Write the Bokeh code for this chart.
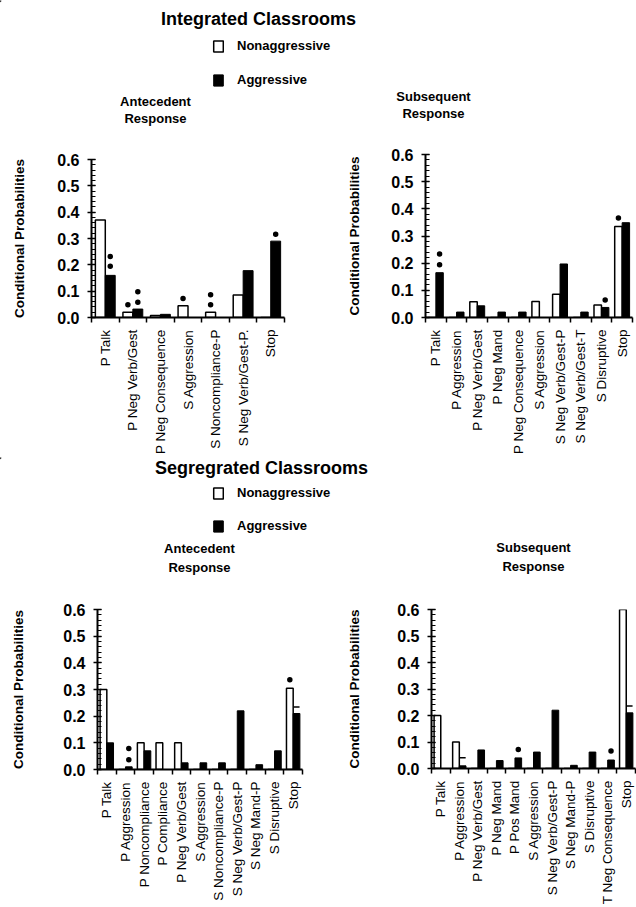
import math
from bokeh.plotting import figure
from bokeh.layouts import column, row
from bokeh.models import Range1d, FixedTicker, PrintfTickFormatter, ColumnDataSource, Legend, LegendItem
from bokeh.embed import file_html
from bokeh.resources import INLINE
from bokeh.core.properties import value

FONT = "Liberation Sans"

# ---------------- data ----------------
y_ticks = [0.0, 0.1, 0.2, 0.3, 0.4, 0.5, 0.6]
series_names = ["Nonaggressive", "Aggressive"]

int_ante_cats = ["P Talk", "P Neg Verb/Gest", "P Neg Consequence", "S Aggression",
                 "S Noncompliance-P", "S Neg Verb/Gest-P.", "Stop"]
int_ante_non = [0.37, 0.02, 0.008, 0.045, 0.02, 0.085, 0.0]
int_ante_agg = [0.16, 0.032, 0.012, 0.0, 0.0, 0.178, 0.29]
int_ante_sig_cat = ["P Talk", "P Talk", "P Neg Verb/Gest", "P Neg Verb/Gest", "P Neg Verb/Gest",
                    "S Aggression", "S Noncompliance-P", "S Noncompliance-P", "Stop"]
int_ante_sig_ser = ["agg", "agg", "non", "agg", "agg", "non", "non", "non", "agg"]
int_ante_sig_y = [0.232, 0.195, 0.048, 0.098, 0.058, 0.072, 0.086, 0.048, 0.316]
int_ante_sig_mk = ["circle"] * 9

int_subs_cats = ["P Talk", "P Aggression", "P Neg Verb/Gest", "P Neg Mand", "P Neg Consequence",
                 "S Aggression", "S Neg Verb/Gest-P", "S Neg Verb/Gest-T", "S Disruptive", "Stop"]
int_subs_non = [0.0, 0.0, 0.058, 0.0, 0.0, 0.059, 0.086, 0.0, 0.046, 0.335]
int_subs_agg = [0.165, 0.02, 0.043, 0.02, 0.02, 0.0, 0.197, 0.02, 0.037, 0.349]
int_subs_sig_cat = ["P Talk", "P Talk", "S Disruptive", "Stop"]
int_subs_sig_ser = ["agg", "agg", "agg", "non"]
int_subs_sig_y = [0.234, 0.194, 0.064, 0.366]
int_subs_sig_mk = ["circle"] * 4

seg_ante_cats = ["P Talk", "P Aggression", "P Noncompliance", "P Compliance", "P Neg Verb/Gest",
                 "S Aggression", "S Noncompliance-P", "S Neg Verb/Gest-P", "S Neg Mand-P",
                 "S Disruptive", "Stop"]
seg_ante_non = [0.30, 0.0, 0.10, 0.10, 0.10, 0.0, 0.0, 0.0, 0.0, 0.0, 0.305]
seg_ante_agg = [0.10, 0.01, 0.07, 0.0, 0.025, 0.025, 0.025, 0.22, 0.018, 0.07, 0.21]
seg_ante_sig_cat = ["P Aggression", "P Aggression", "Stop", "Stop"]
seg_ante_sig_ser = ["agg", "agg", "non", "agg"]
seg_ante_sig_y = [0.079, 0.037, 0.337, 0.234]
seg_ante_sig_mk = ["circle", "circle", "circle", "dash"]

seg_subs_cats = ["P Talk", "P Aggression", "P Neg Verb/Gest", "P Neg Mand", "P Pos Mand",
                 "S Aggression", "S Neg Verb/Gest-P", "S Neg Mand-P", "S Disruptive",
                 "T Neg Consequence", "Stop"]
seg_subs_non = [0.20, 0.10, 0.0, 0.0, 0.0, 0.0, 0.0, 0.0, 0.0, 0.0, 0.60]
seg_subs_agg = [0.0, 0.01, 0.07, 0.03, 0.04, 0.062, 0.22, 0.012, 0.062, 0.032, 0.21]
seg_subs_sig_cat = ["P Aggression", "P Pos Mand", "T Neg Consequence", "Stop"]
seg_subs_sig_ser = ["agg", "agg", "agg", "agg"]
seg_subs_sig_y = [0.041, 0.072, 0.066, 0.236]
seg_subs_sig_mk = ["dash", "circle", "circle", "dash"]

BAR_W = 0.36


def panel(cats, non, agg, sig_cat, sig_ser, sig_y, sig_mk, width, height, bl, br, bt, bb, lab_off):
    n = len(cats)
    p = figure(width=width, height=height, x_range=Range1d(0, n), y_range=Range1d(0, 0.6),
               output_backend="svg", toolbar_location=None,
               min_border_left=bl, min_border_right=br, min_border_top=bt, min_border_bottom=bb)
    p.outline_line_color = None
    p.grid.visible = False
    centers = [i + 0.5 for i in range(n)]
    src_n = ColumnDataSource(dict(x=[c - BAR_W / 2 for c in centers], top=non))
    src_a = ColumnDataSource(dict(x=[c + BAR_W / 2 for c in centers], top=agg))
    p.vbar(x="x", top="top", width=BAR_W, bottom=0, source=src_n,
           fill_color="white", line_color="black", line_width=1.5)
    p.vbar(x="x", top="top", width=BAR_W, bottom=0, source=src_a,
           fill_color="black", line_color="black", line_width=1)
    sx = [cats.index(c) + 0.5 + (-BAR_W / 2 if s == "non" else BAR_W / 2)
          for c, s in zip(sig_cat, sig_ser)]
    sz = [4 if m == "circle" else 6 for m in sig_mk]
    src_s = ColumnDataSource(dict(x=sx, y=sig_y, m=sig_mk, s=sz))
    p.scatter(x="x", y="y", marker="m", size="s", source=src_s, color="black", line_width=1.5)

    xa = p.xaxis[0]
    xa.ticker = FixedTicker(ticks=centers, minor_ticks=list(range(n + 1)))
    xa.major_label_overrides = {c: name for c, name in zip(centers, cats)}
    xa.major_label_orientation = math.pi / 2
    xa.major_tick_out = 0
    xa.major_tick_in = 0
    xa.minor_tick_out = 5
    xa.minor_tick_in = 0
    xa.minor_tick_line_width = 1.5
    xa.axis_line_width = 2
    xa.major_label_standoff = 7
    xa.major_label_text_font = FONT
    xa.major_label_text_font_size = "13.5px"
    xa.major_label_text_color = "black"

    ya = p.yaxis[0]
    ya.ticker = FixedTicker(ticks=y_ticks, minor_ticks=[k * 0.02 for k in range(31)])
    ya.formatter = PrintfTickFormatter(format="%.1f")
    ya.major_tick_out = 4
    ya.major_tick_in = 4
    ya.minor_tick_in = 4
    ya.minor_tick_out = 0
    ya.major_tick_line_width = 1.5
    ya.minor_tick_line_width = 1
    ya.axis_line_width = 2
    ya.major_label_standoff = 8
    ya.major_label_text_font = FONT
    ya.major_label_text_font_style = "bold"
    ya.major_label_text_font_size = "16px"
    ya.major_label_text_color = "black"
    ya.axis_label = "Conditional Probabilities"
    ya.axis_label_text_font = FONT
    ya.axis_label_text_font_style = "bold"
    ya.axis_label_text_font_size = "13.5px"
    ya.axis_label_text_color = "black"
    ya.axis_label_standoff = lab_off
    return p


def header(width, height, title, tx, tby, subs, leg_loc, leg_spacing):
    h = figure(width=width, height=height, x_range=Range1d(0, width), y_range=Range1d(height, 0),
               output_backend="svg", toolbar_location=None, x_axis_type=None, y_axis_type=None,
               min_border=0)
    h.outline_line_color = None
    h.grid.visible = False
    h.text(x=[tx], y=[tby], text=[title], text_font=value(FONT), text_font_style="bold",
           text_font_size="18px", text_align="center", text_baseline="alphabetic", color="black")
    for (sx, sy, st) in subs:
        h.text(x=[sx], y=[sy], text=[st], text_font=value(FONT), text_font_style="bold",
               text_font_size="13px", text_align="center", text_baseline="alphabetic", color="black")
    r1 = h.vbar(x=[-1000], top=[1], width=1, fill_color="white", line_color="black", line_width=1.5)
    r2 = h.vbar(x=[-1000], top=[1], width=1, fill_color="black", line_color="black", line_width=1)
    leg = Legend(items=[LegendItem(label=series_names[0], renderers=[r1], index=0),
                        LegendItem(label=series_names[1], renderers=[r2], index=0)],
                 location=leg_loc, orientation="vertical",
                 glyph_width=12, glyph_height=14, label_height=14, label_standoff=13,
                 spacing=leg_spacing, padding=0, margin=0,
                 border_line_color=None, background_fill_alpha=0,
                 label_text_font=FONT, label_text_font_style="bold",
                 label_text_font_size="13px", label_text_color="black")
    h.add_layout(leg)
    return h


h1 = header(636, 136, "Integrated Classrooms", 258, 18,
            [(155, 101, "Antecedent"), (155, 118, "Response"),
             (433, 96, "Subsequent"), (433, 113, "Response")],
            (212, 49), 19)
tl = panel(int_ante_cats, int_ante_non, int_ante_agg, int_ante_sig_cat, int_ante_sig_ser,
           int_ante_sig_y, int_ante_sig_mk, 330, 321, 91, 46, 23, 138, 27)
tr = panel(int_subs_cats, int_subs_non, int_subs_agg, int_subs_sig_cat, int_subs_sig_ser,
           int_subs_sig_y, int_subs_sig_mk, 306, 321, 95, 4, 18, 138, 26)
h2 = header(636, 128, "Segregrated Classrooms", 261, 10,
            [(199, 91, "Antecedent"), (199, 110, "Response"),
             (533, 90, "Subsequent"), (533, 109, "Response")],
            (212, 52), 18)
bl = panel(seg_ante_cats, seg_ante_non, seg_ante_agg, seg_ante_sig_cat, seg_ante_sig_ser,
           seg_ante_sig_y, seg_ante_sig_mk, 330, 322, 97, 28, 24, 138, 34)
br = panel(seg_subs_cats, seg_subs_non, seg_subs_agg, seg_subs_sig_cat, seg_subs_sig_ser,
           seg_subs_sig_y, seg_subs_sig_mk, 306, 322, 101, 1, 24, 138, 32)

layout = column(h1, row(column(tl), column(tr)), h2, row(column(bl), column(br)))
open("out.html", "w").write(file_html(layout, INLINE))
